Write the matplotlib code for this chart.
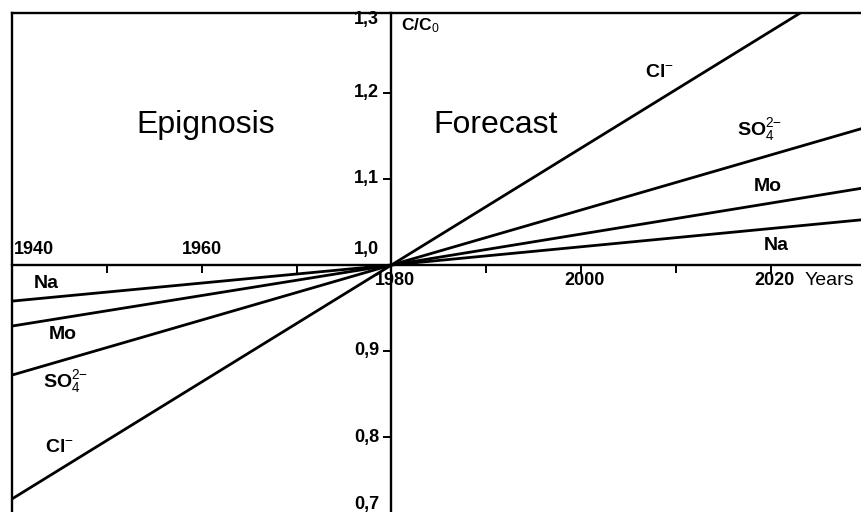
import matplotlib
matplotlib.use('Agg')
import matplotlib.pyplot as plt

plt.rcParams['font.family'] = ['Liberation Sans', 'DejaVu Sans']
plt.rcParams['mathtext.fontset'] = 'custom'
plt.rcParams['mathtext.rm'] = 'Liberation Sans'
plt.rcParams['mathtext.it'] = 'Liberation Sans:italic'
plt.rcParams['mathtext.bf'] = 'Liberation Sans:bold'

# years where the lines are read (left edge, pivot, right edge)
years = [1940, 1980, 2030]
cl = [0.728, 1.0, 1.340]
so4 = [0.872, 1.0, 1.160]
mo = [0.929, 1.0, 1.090]
na = [0.958, 1.0, 1.053]

xticks = [1950, 1960, 1970, 1990, 2000, 2010, 2020]
xlabels_above = [1940, 1960]
xlabels_below = [1980, 2000, 2020]
yticks = [0.8, 0.9, 1.1, 1.2]

fig = plt.figure(figsize=(8.62, 5.12), dpi=100)
ax = fig.add_axes([12/862, 0, 850/862, 499/512])
ax.set_xlim(1940, 2029.6)
ax.set_ylim(0.7128, 1.293)

for vals in [cl, so4, mo, na]:
    ax.plot(years, vals, color='black', lw=2.0, solid_capstyle='butt')

# cross axes through (1980, 1.0)
ax.spines['bottom'].set_position(('data', 1.0))
ax.spines['right'].set_position(('data', 1980))
for s in ax.spines.values():
    s.set_linewidth(1.7)
ax.yaxis.set_ticks_position('right')
ax.set_xticks(xticks)
ax.set_xticklabels([])
ax.tick_params(axis='x', direction='out', length=6, width=1.4)
ax.set_yticks(yticks)
ax.set_yticklabels([])
ax.tick_params(axis='y', direction='in', length=6, width=1.4)

fs = 13
xl = 1978.7
for y in yticks:
    ax.text(xl, y, f'{y:.1f}'.replace('.', ','), ha='right', va='center',
            fontsize=fs, fontweight='bold')
ax.text(xl, 1.285, '1,3', ha='right', va='center', fontsize=fs, fontweight='bold')
ax.text(xl, 0.722, '0,7', ha='right', va='center', fontsize=fs, fontweight='bold')
ax.text(xl, 1.008, '1,0', ha='right', va='bottom', fontsize=fs, fontweight='bold')
ax.text(1981.0, 1.278, 'C/C$_0$', ha='left', va='center', fontsize=12.5, fontweight='bold')

for yr in xlabels_above:
    ax.text(yr + (0.2 if yr == 1940 else 0), 1.008, str(yr),
            ha='left' if yr == 1940 else 'center', va='bottom', fontsize=fs, fontweight='bold')
for yr in xlabels_below:
    ax.text(yr + 0.4, 0.992, str(yr), ha='center', va='top', fontsize=fs, fontweight='bold')
ax.text(2023.5, 0.992, 'Years', ha='left', va='top', fontsize=14)

ax.text(1960.4, 1.163, 'Epignosis', ha='center', va='center', fontsize=23)
ax.text(1991.0, 1.163, 'Forecast', ha='center', va='center', fontsize=23)

lfs = 14
left_labels = [('Na', 1943.6, 0.979), ('Mo', 1945.4, 0.919),
               ('SO$_4^{2{-}}$', 1945.7, 0.864), ('Cl$^{-}$', 1945.0, 0.788)]
right_labels = [('Cl$^{-}$', 2008.3, 1.224), ('SO$_4^{2{-}}$', 2018.8, 1.157),
                ('Mo', 2019.7, 1.091), ('Na', 2020.6, 1.023)]
for t, x, y in left_labels + right_labels:
    ax.text(x, y, t, ha='center', va='center', fontsize=lfs, fontweight='bold')

fig.savefig('out.png', dpi=100)
